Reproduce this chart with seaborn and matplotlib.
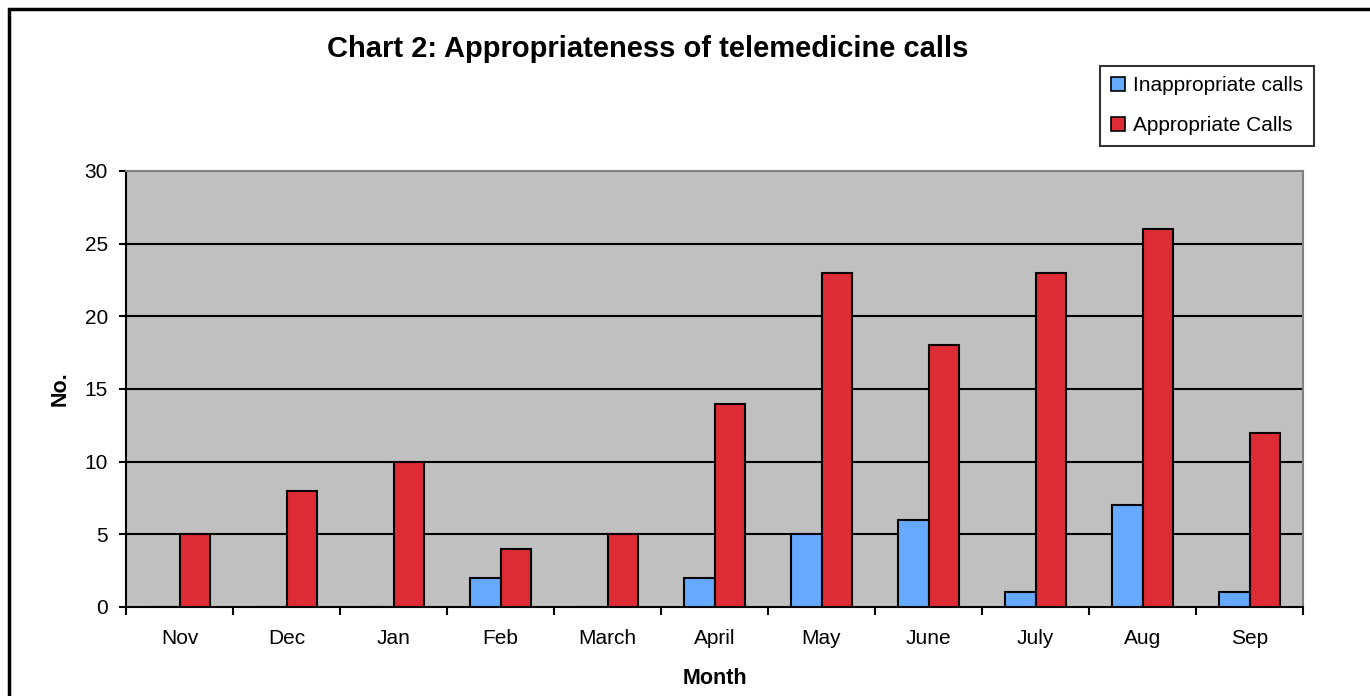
import matplotlib
matplotlib.use("Agg")
import matplotlib.pyplot as plt
import seaborn as sns
import pandas as pd
from matplotlib.patches import Rectangle, Patch

months = ['Nov', 'Dec', 'Jan', 'Feb', 'March', 'April', 'May', 'June', 'July', 'Aug', 'Sep']
inappropriate = [0, 0, 0, 2, 0, 2, 5, 6, 1, 7, 1]
appropriate = [5, 8, 10, 4, 5, 14, 23, 18, 23, 26, 12]
series_names = ['Inappropriate calls', 'Appropriate Calls']
colors = ['#66AAFF', '#DD2C35']

df = pd.DataFrame({
    'Month': months * 2,
    'No.': inappropriate + appropriate,
    'Series': [series_names[0]] * len(months) + [series_names[1]] * len(months),
})

sns.set_style("white")
plt.rcParams['font.family'] = ['Liberation Sans', 'DejaVu Sans']
plt.rcParams['text.color'] = 'black'
plt.rcParams['xtick.color'] = 'black'
plt.rcParams['ytick.color'] = 'black'
plt.rcParams['axes.labelcolor'] = 'black'

fig = plt.figure(figsize=(13.7, 6.96), dpi=100)
ax = fig.add_axes([126 / 1370, 1 - 607 / 696, (1303 - 126) / 1370, (607 - 171) / 696])
ax.set_facecolor('#C0C0C0')

sns.barplot(data=df, x='Month', y='No.', hue='Series', palette=colors, saturation=1, width=0.572,
            edgecolor='black', linewidth=1.5, legend=False, ax=ax, zorder=3)

ax.set_ylim(0, 30)
ax.set_xlim(-0.5, len(months) - 0.5)
ax.set_yticks(range(0, 31, 5))
for y in range(5, 30, 5):
    ax.axhline(y, color='black', linewidth=1.5, zorder=1)

# Excel-style ticks between categories, labels at centres
ax.set_xticks([i - 0.5 for i in range(len(months) + 1)])
ax.set_xticklabels([])
ax.set_xticks(range(len(months)), minor=True)
ax.set_xticklabels(months, minor=True, fontsize=15)
ax.tick_params(axis='x', which='major', length=6, width=1.5, direction='out', bottom=True)
ax.tick_params(axis='x', which='minor', length=0, pad=16)
ax.tick_params(axis='y', length=5, width=1.5, direction='out', left=True, labelsize=15, pad=8)

for side in ['left', 'bottom']:
    ax.spines[side].set_color('black')
    ax.spines[side].set_linewidth(1.5)
for side in ['top', 'right']:
    ax.spines[side].set_color('#808080')
    ax.spines[side].set_linewidth(1.5)
    ax.spines[side].set_visible(True)

ax.set_xlabel('Month', fontsize=15.5, fontweight='bold', labelpad=14)
ax.set_ylabel('No.', fontsize=15.5, fontweight='bold', labelpad=10)

fig.text(648 / 1370, 1 - 49 / 696, 'Chart 2: Appropriateness of telemedicine calls',
         ha='center', va='center', fontsize=21, fontweight='bold')

handles = [Patch(facecolor=c, edgecolor='black', linewidth=1.2) for c in colors]
leg = fig.legend(handles, series_names, loc='upper right',
                 bbox_to_anchor=(1314 / 1370, 1 - 66 / 696), fontsize=15,
                 frameon=True, fancybox=False, handlelength=0.7, handleheight=0.7,
                 handletextpad=0.4, labelspacing=1.0, borderpad=0.5, borderaxespad=0)
leg.get_frame().set_edgecolor('black')
leg.get_frame().set_linewidth(1.5)

# outer chart border
fig.patches.append(Rectangle((9 / 1370, -0.05), 1.2, 1 - 9 / 696 + 0.05, transform=fig.transFigure,
                             fill=False, edgecolor='black', linewidth=2.5))

fig.savefig('out.png', dpi=100)
